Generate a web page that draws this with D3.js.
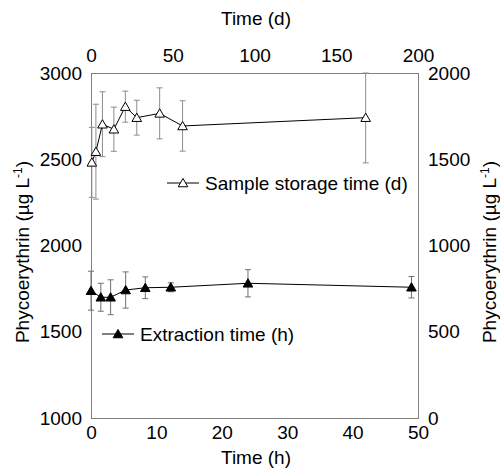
<!DOCTYPE html>
<html lang="en">
<head>
    <meta charset="UTF-8">
    <title>Phycoerythrin vs time</title>
    <script src="https://d3js.org/d3.v7.min.js"></script>
    <style>
        body { margin: 0; background: white; }
        text { font-family: "Liberation Sans", Arial, sans-serif; fill: black; }
    </style>
</head>
<body>
    <div id="my_dataviz"></div>

    <script>
        // Sample storage time (d) - open triangles, top axis
        var storageDays = [0.5, 3, 7, 14, 21, 28, 42, 56, 168];
        var storageValues = [2482, 2544, 2703, 2674, 2805, 2741, 2766, 2693, 2741];
        var storageErr = [203, 275, 188, 128, 90, 101, 148, 146, 262];

        // Extraction time (h) - filled triangles, bottom axis
        var extractHours = [0, 1.5, 3, 5.3, 8.3, 12.2, 24, 49];
        var extractValues = [1738, 1700, 1700, 1742, 1755, 1758, 1781, 1758];
        var extractErr = [113, 81, 101, 105, 63, 26, 79, 62];

        var bottomTicks = [0, 10, 20, 30, 40, 50];
        var topTicks = [0, 50, 100, 150, 200];
        var leftTicks = [1000, 1500, 2000, 2500, 3000];
        var rightTicks = [0, 500, 1000, 1500, 2000];

        // plot box (note: "top" is reserved on window, so use pX names)
        var pLeft = 91, pRight = 418, pTop = 73, pBottom = 418;
        var fs = "19px";

        var svg = d3.select("#my_dataviz")
            .append("svg")
            .attr("width", 500)
            .attr("height", 469);

        var xh = d3.scaleLinear().domain([0, 50]).range([pLeft, pRight]);
        var xd = d3.scaleLinear().domain([0, 200]).range([pLeft, pRight]);
        var y = d3.scaleLinear().domain([1000, 3000]).range([pBottom, pTop]);
        var y2 = d3.scaleLinear().domain([0, 2000]).range([pBottom, pTop]);

        // axes (labels only, no tick marks)
        function styleAxis(g) {
            g.select(".domain").remove();
            g.selectAll("text").style("font-size", fs).style("font-family", "Liberation Sans, Arial, sans-serif");
        }
        var fmt = d3.format("d");

        svg.append("g")
            .attr("transform", "translate(0," + pBottom + ")")
            .call(d3.axisBottom(xh).tickValues(bottomTicks).tickFormat(fmt).tickSize(0).tickPadding(8))
            .call(styleAxis);

        svg.append("g")
            .attr("transform", "translate(0," + pTop + ")")
            .call(d3.axisTop(xd).tickValues(topTicks).tickFormat(fmt).tickSize(0).tickPadding(11))
            .call(styleAxis);

        svg.append("g")
            .attr("transform", "translate(" + pLeft + ",0)")
            .call(d3.axisLeft(y).tickValues(leftTicks).tickFormat(fmt).tickSize(0).tickPadding(9))
            .call(styleAxis);

        svg.append("g")
            .attr("transform", "translate(" + pRight + ",0)")
            .call(d3.axisRight(y2).tickValues(rightTicks).tickFormat(fmt).tickSize(0).tickPadding(10))
            .call(styleAxis);

        // plot frame
        svg.append("rect")
            .attr("x", pLeft + 0.5)
            .attr("y", pTop + 0.5)
            .attr("width", pRight - pLeft)
            .attr("height", pBottom - pTop)
            .attr("fill", "none")
            .attr("stroke", "#808080")
            .attr("stroke-width", 1);

        // axis titles
        svg.append("text")
            .attr("x", 256).attr("y", 25)
            .attr("text-anchor", "middle")
            .style("font-size", fs)
            .text("Time (d)");

        svg.append("text")
            .attr("x", 256).attr("y", 464)
            .attr("text-anchor", "middle")
            .style("font-size", fs)
            .text("Time (h)");

        function yTitle(x, yc) {
            var t = svg.append("text")
                .attr("transform", "translate(" + x + "," + yc + ") rotate(-90)")
                .attr("text-anchor", "middle")
                .style("font-size", fs);
            t.append("tspan").text("Phycoerythrin (\u00b5g L");
            t.append("tspan").attr("dy", -7).style("font-size", "12px").text("-1");
            t.append("tspan").attr("dy", 7).text(")");
        }
        yTitle(29, 252);
        yTitle(496, 252);

        var tri = d3.symbol().type(d3.symbolTriangle).size(40);

        function drawSeries(xs, vals, errs, xScale, fill, errColor) {
            var pts = xs.map((d, i) => ({ x: d, v: vals[i], e: errs[i] }));

            var bars = svg.append("g");
            pts.forEach(function (p) {
                var cx = xScale(p.x);
                var y0 = Math.max(y(p.v + p.e), pTop);
                var y1 = y(p.v - p.e);
                bars.append("line").attr("x1", cx).attr("x2", cx).attr("y1", y0).attr("y2", y1)
                    .attr("stroke", errColor).attr("stroke-width", 1);
                [y0, y1].forEach(function (yy) {
                    bars.append("line").attr("x1", cx - 3).attr("x2", cx + 3).attr("y1", yy).attr("y2", yy)
                        .attr("stroke", errColor).attr("stroke-width", 1);
                });
            });

            var line = d3.line().x(d => xScale(d.x)).y(d => y(d.v));
            svg.append("path")
                .datum(pts)
                .attr("fill", "none")
                .attr("stroke", "black")
                .attr("stroke-width", 1)
                .attr("d", line);

            svg.selectAll(null)
                .data(pts)
                .enter()
                .append("path")
                .attr("d", tri)
                .attr("transform", d => "translate(" + xScale(d.x) + "," + (y(d.v) + 1) + ")")
                .attr("fill", fill)
                .attr("stroke", "black")
                .attr("stroke-width", 1);
        }

        drawSeries(storageDays, storageValues, storageErr, xd, "white", "#8c8c8c");
        drawSeries(extractHours, extractValues, extractErr, xh, "black", "#707070");

        // legends
        function legend(x0, ly, fill, label) {
            svg.append("line").attr("x1", x0).attr("x2", x0 + 32).attr("y1", ly).attr("y2", ly)
                .attr("stroke", "black").attr("stroke-width", 1);
            svg.append("path").attr("d", tri)
                .attr("transform", "translate(" + (x0 + 16) + "," + (ly + 1) + ")")
                .attr("fill", fill).attr("stroke", "black");
            svg.append("text")
                .attr("x", x0 + 38).attr("y", ly + 7)
                .style("font-size", fs)
                .text(label);
        }
        legend(167, 183, "white", "Sample storage time (d)");
        legend(102, 334, "black", "Extraction time (h)");
    </script>
</body>
</html>
